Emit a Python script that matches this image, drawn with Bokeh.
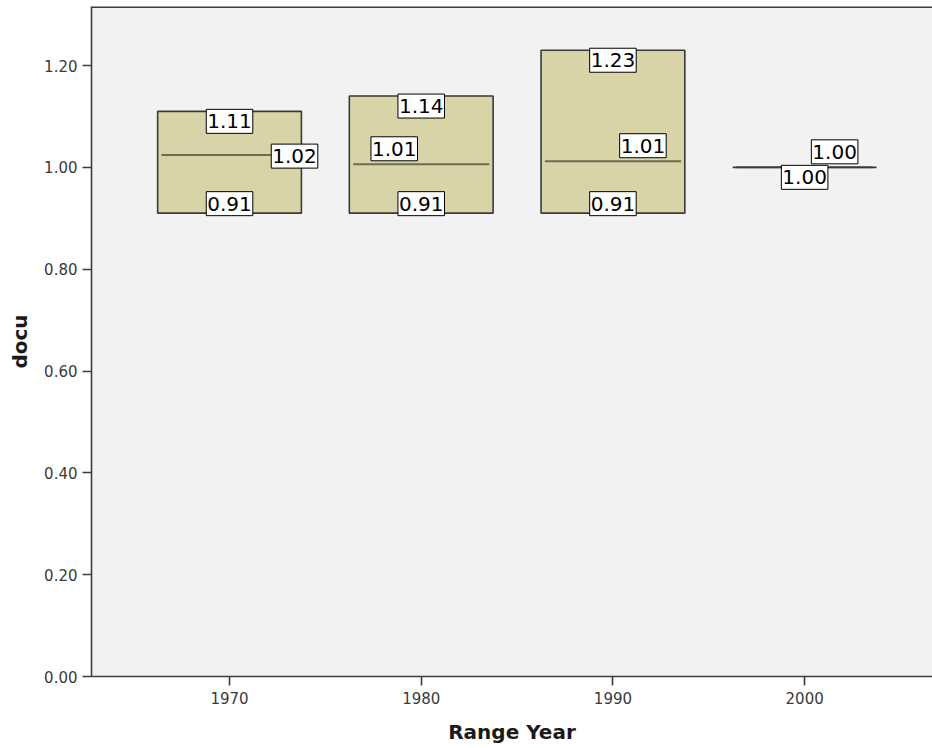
from bokeh.plotting import figure
from bokeh.models import Range1d, FixedTicker, NumeralTickFormatter, ColumnDataSource, Span
from bokeh.core.properties import value
from bokeh.embed import file_html
from bokeh.resources import INLINE

# ---- data ----
years = [1970, 1980, 1990, 2000]
q_low = [0.91, 0.91, 0.91, 1.00]
q_high = [1.11, 1.14, 1.23, 1.00]
medians = [1.024, 1.006, 1.012, 1.00]
y_ticks = [0.0, 0.2, 0.4, 0.6, 0.8, 1.0, 1.2]
x_label = "Range Year"
y_label = "docu"

# ---- styling / layout ----
BOX_W = 7.5
INSET = 0.2
X_RANGE = (1962.8, 2006.67)
Y_RANGE = (0.0, 1.3159)
med_dx = [65, -27, 30, 30]
med_dy = [1, -15.5, -15.5, -15.5]
FONT = "DejaVu Sans"

p = figure(width=932, height=748, output_backend="svg", toolbar_location=None,
           x_range=Range1d(*X_RANGE), y_range=Range1d(*Y_RANGE),
           min_border_left=91, min_border_right=0, min_border_top=6,
           min_border_bottom=72)
p.background_fill_color = "#F2F2F2"
p.border_fill_color = "white"
p.outline_line_color = None
p.xgrid.visible = False
p.ygrid.visible = False

src = ColumnDataSource(dict(
    x=years, lo=q_low, hi=q_high, med=medians,
    x0=[x - BOX_W / 2 + INSET for x in years],
    x1=[x + BOX_W / 2 - INSET for x in years],
))
# box fill, median, then box outline
p.vbar(x="x", width=BOX_W, top="hi", bottom="lo", source=src,
       fill_color="#D8D4A7", line_color=None)
p.segment(x0="x0", x1="x1", y0="med", y1="med", source=src,
          line_color="#6f6b52", line_width=2)
p.vbar(x="x", width=BOX_W, top="hi", bottom="lo", source=src,
       fill_color=None, line_color="#3a3a3a", line_width=1.6)

# labels
lab_x, lab_y, lab_t, lab_dx, lab_dy = [], [], [], [], []
for i, x in enumerate(years):
    lab_x.append(x); lab_y.append(q_high[i]); lab_t.append(f"{q_high[i]:.2f}")
    lab_dx.append(0); lab_dy.append(10)
    if q_low[i] != q_high[i]:
        lab_x.append(x); lab_y.append(q_low[i]); lab_t.append(f"{q_low[i]:.2f}")
        lab_dx.append(0); lab_dy.append(-9.5)
    lab_x.append(x); lab_y.append(medians[i]); lab_t.append(f"{medians[i]:.2f}")
    lab_dx.append(med_dx[i]); lab_dy.append(med_dy[i])

lsrc = ColumnDataSource(dict(x=lab_x, y=lab_y, t=lab_t, dx=lab_dx, dy=lab_dy))
p.text(x="x", y="y", text="t", x_offset="dx", y_offset="dy", source=lsrc,
       anchor="center", text_font=value(FONT), text_font_size="20px",
       text_color="black", background_fill_color="white",
       border_line_color="black", border_line_width=1,
       padding=dict(left=1, right=1, top=5, bottom=5))

# axes
p.xaxis.ticker = FixedTicker(ticks=years)
p.yaxis.ticker = FixedTicker(ticks=y_ticks)
p.yaxis.formatter = NumeralTickFormatter(format="0.00")
for ax in (p.xaxis[0], p.yaxis[0]):
    ax.axis_line_color = "#3c3c3c"
    ax.axis_line_width = 1.6
    ax.major_tick_line_color = "#3c3c3c"
    ax.major_tick_line_width = 1.6
    ax.major_tick_in = 0
    ax.major_tick_out = 9
    ax.minor_tick_line_color = None
    ax.major_label_text_font = FONT
    ax.major_label_text_font_size = "15px"
    ax.major_label_text_color = "#3a3a3a"
    ax.axis_label_text_font = FONT
    ax.axis_label_text_font_size = "20px"
    ax.axis_label_text_font_style = "bold"
    ax.axis_label_text_color = "#1a1a1a"
p.xaxis.axis_label = x_label
p.yaxis.axis_label = y_label
p.xaxis.major_label_standoff = 6
p.yaxis.major_label_standoff = 5
p.xaxis.axis_label_standoff = 13
p.yaxis.axis_label_standoff = 9

p.add_layout(Span(location=Y_RANGE[1], dimension="width",
                  line_color="#3c3c3c", line_width=3))

open("out.html", "w").write(file_html(p, INLINE))
